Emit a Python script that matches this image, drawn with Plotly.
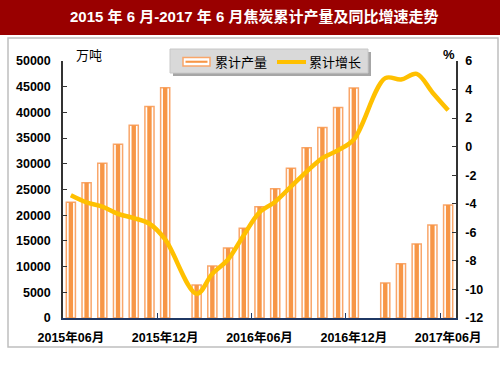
import plotly.graph_objects as go

months = ["2015年06月","2015年07月","2015年08月","2015年09月","2015年10月","2015年11月","2015年12月",
          "2016年01月","2016年02月","2016年03月","2016年04月","2016年05月","2016年06月","2016年07月",
          "2016年08月","2016年09月","2016年10月","2016年11月","2016年12月",
          "2017年01月","2017年02月","2017年03月","2017年04月","2017年05月","2017年06月"]
output = [22500, 26300, 30100, 33800, 37500, 41150, 44780,
          None, 6410, 10100, 13600, 17450, 21650, 25150,
          29150, 33100, 37050, 40950, 44760,
          None, 6790, 10540, 14420, 18100, 21990]
growth = [-3.4, -3.9, -4.2, -4.7, -5.0, -5.4, -6.5,
          None, -10.3, -8.9, -7.9, -6.2, -4.6, -3.85,
          -2.8, -1.75, -0.8, -0.25, 0.5,
          None, 4.8, 4.7, 5.1, 3.8, 2.55]
tick_labels = ["2015年06月", "2015年12月", "2016年06月", "2016年12月", "2017年06月"]
legend_names = ["累计产量", "累计增长"]

W, H = 500, 375
L, R, T, B = 63, 44, 61, 57
PW, PH = W - L - R, H - T - B

def px(x):
    return (x - L) / PW

def py(y):
    return (H - B - y) / PH

FONT = "Liberation Sans, Arial, Noto Sans CJK SC"
BAR_EDGE = "#F9A66A"
BAR_CORE = "#F79646"
LINE_C = "#FFC000"

fig = go.Figure()
fig.add_trace(go.Bar(x=months, y=output, name=legend_names[0], width=0.58,
                     marker=dict(color="white", line=dict(color=BAR_EDGE, width=1.5))))
fig.add_trace(go.Bar(x=months, y=output, name=legend_names[0], width=0.28,
                     marker=dict(color=BAR_CORE, line=dict(width=0))))
fig.add_trace(go.Scatter(x=months, y=growth, name=legend_names[1], yaxis="y2", mode="lines",
                         connectgaps=True,
                         line=dict(color=LINE_C, width=4.5, shape="spline", smoothing=1.0)))

shapes = [
    dict(type="rect", xref="paper", yref="paper", x0=px(0), x1=px(500), y0=py(35), y1=py(0),
         fillcolor="#990000", line=dict(width=0), layer="below"),
    dict(type="rect", xref="paper", yref="paper", x0=px(8), x1=px(498), y0=py(347), y1=py(38),
         fillcolor="rgba(0,0,0,0)", line=dict(color="#BFBFBF", width=1.5), layer="below"),
    # legend box with shadow
    dict(type="rect", xref="paper", yref="paper", x0=px(173), x1=px(371), y0=py(76), y1=py(52),
         fillcolor="#A6A6A6", line=dict(width=0), layer="above"),
    dict(type="rect", xref="paper", yref="paper", x0=px(170), x1=px(368), y0=py(73), y1=py(49),
         fillcolor="#D9D9D9", line=dict(color="#C8C8C8", width=1), layer="above"),
    # bar icon
    dict(type="rect", xref="paper", yref="paper", x0=px(183), x1=px(210), y0=py(66), y1=py(57.5),
         fillcolor="white", line=dict(color=BAR_EDGE, width=1.5), layer="above"),
    dict(type="rect", xref="paper", yref="paper", x0=px(185.5), x1=px(207.5), y0=py(62.8), y1=py(60.7),
         fillcolor=BAR_CORE, line=dict(width=0), layer="above"),
    # line icon
    dict(type="line", xref="paper", yref="paper", x0=px(277), x1=px(306), y0=py(62), y1=py(62),
         line=dict(color=LINE_C, width=4), layer="above"),
]

annotations = [
    dict(text="<b>2015 年 6 月-2017 年 6 月焦炭累计产量及同比增速走势</b>", xref="paper", yref="paper",
         x=px(254), y=py(17), showarrow=False, xanchor="center", yanchor="middle",
         font=dict(family=FONT, size=15, color="white")),
    dict(text="万吨", xref="paper", yref="paper", x=px(74), y=py(55), showarrow=False,
         xanchor="left", yanchor="middle", font=dict(family=FONT, size=13, color="#000")),
    dict(text="<b>%</b>", xref="paper", yref="paper", x=px(449), y=py(54), showarrow=False,
         xanchor="center", yanchor="middle", font=dict(family=FONT, size=13, color="#000")),
    dict(text=legend_names[0], xref="paper", yref="paper", x=px(213), y=py(62), showarrow=False,
         xanchor="left", yanchor="middle", font=dict(family=FONT, size=13, color="#000")),
    dict(text=legend_names[1], xref="paper", yref="paper", x=px(307), y=py(62), showarrow=False,
         xanchor="left", yanchor="middle", font=dict(family=FONT, size=13, color="#000")),
]

fig.update_layout(
    width=W, height=H,
    margin=dict(l=L, r=R, t=T, b=B, autoexpand=False),
    paper_bgcolor="white", plot_bgcolor="white",
    barmode="overlay",
    showlegend=False,
    xaxis=dict(type="category", categoryorder="array", categoryarray=months,
               tickvals=tick_labels, ticktext=["<b>%s</b>" % t for t in tick_labels],
               tickson="boundaries", ticks="inside", ticklen=5, tickcolor="#1F3864",
               tickangle=0, automargin=False, ticklabelstandoff=7,
               showline=True, linecolor="#1F3864", linewidth=1.5, showgrid=False,
               tickfont=dict(family=FONT, size=12.5, color="#000"), range=[-0.5, 24.5]),
    yaxis=dict(range=[0, 50000], showgrid=False, zeroline=False, automargin=False,
               showline=True, linecolor="#333", linewidth=1.5, ticks="inside", ticklen=4,
               tickcolor="#333", ticklabelstandoff=8,
               tickvals=list(range(0, 50001, 5000)),
               ticktext=["<b>%d</b>" % v for v in range(0, 50001, 5000)],
               tickfont=dict(family=FONT, size=12.5, color="#000")),
    yaxis2=dict(range=[-12, 6], overlaying="y", side="right", showgrid=False, zeroline=False,
                automargin=False, ticklabelstandoff=5,
                showline=True, linecolor="#333", linewidth=1.5, ticks="inside", ticklen=4,
                tickcolor="#333",
                tickvals=list(range(-12, 7, 2)),
                ticktext=["<b>%d</b>" % v for v in range(-12, 7, 2)],
                tickfont=dict(family=FONT, size=12.5, color="#000")),
    shapes=shapes, annotations=annotations,
)

fig.write_html("out.html", config={"displayModeBar": False},
               post_script="document.body.style.margin='0';")
